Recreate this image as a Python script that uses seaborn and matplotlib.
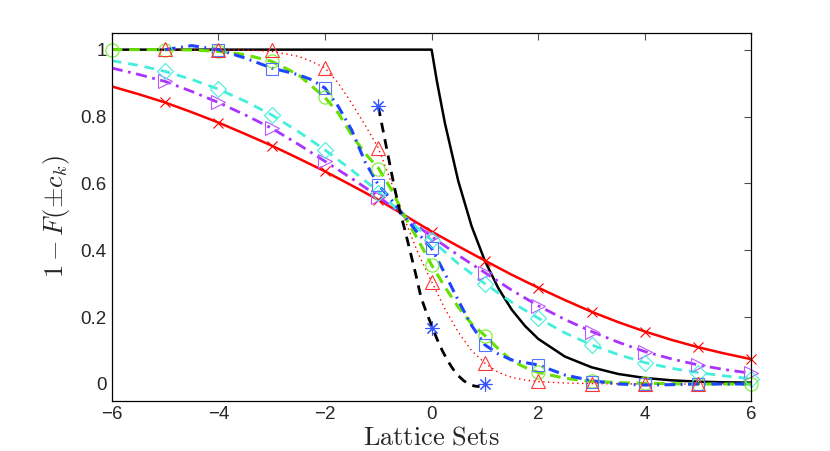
import numpy as np
import pandas as pd
import seaborn as sns
import matplotlib
matplotlib.use("Agg")
import matplotlib.pyplot as plt

# ---- curve values ----
x_half = [-6, -5.5, -5, -4.5, -4, -3.5, -3, -2.5, -2, -1.5, -1, -0.5,
          0, 0.5, 1, 1.5, 2, 2.5, 3, 3.5, 4, 4.5, 5, 5.5, 6]

red_line = [0.890, 0.867, 0.842, 0.813, 0.782, 0.748, 0.713, 0.675, 0.636, 0.594, 0.551, 0.504,
            0.456, 0.412, 0.369, 0.327, 0.288, 0.251, 0.216, 0.185, 0.157, 0.132, 0.110, 0.091, 0.074]
purple_line = [0.945, 0.926, 0.905, 0.875, 0.842, 0.805, 0.765, 0.717, 0.666, 0.615, 0.561, 0.500,
               0.441, 0.385, 0.333, 0.281, 0.234, 0.193, 0.157, 0.125, 0.097, 0.075, 0.057, 0.043, 0.032]
cyan_line = [0.967, 0.953, 0.935, 0.911, 0.882, 0.846, 0.805, 0.755, 0.700, 0.640, 0.576, 0.500,
             0.430, 0.360, 0.300, 0.245, 0.197, 0.153, 0.117, 0.088, 0.064, 0.047, 0.034, 0.024, 0.016]

x_green = [-6, -5.5, -5, -4.5, -4, -3.5, -3, -2.5, -2, -1.75, -1.5, -1.25, -1, -0.75, -0.5, -0.25,
           0, 0.25, 0.5, 0.75, 1, 1.25, 1.5, 1.75, 2, 2.5, 3, 3.5, 4, 5, 6]
green_line = [1.0, 1.0, 1.0, 0.999, 0.995, 0.985, 0.965, 0.925, 0.857, 0.81, 0.745, 0.69, 0.646, 0.58, 0.50, 0.43,
              0.356, 0.29, 0.23, 0.18, 0.145, 0.105, 0.07, 0.05, 0.035, 0.017, 0.008, 0.004, 0.002, 0.0, 0.0]

x_blue = [-5, -4.5, -4, -3.5, -3, -2.5, -2.25, -2, -1.75, -1.5, -1.25, -1, -0.75, -0.5, -0.25,
          0, 0.25, 0.5, 0.75, 1, 1.25, 1.5, 1.75, 2, 2.5, 3, 3.5, 4, 4.5, 5, 6]
blue_line = [1.0, 1.012, 1.0, 0.975, 0.945, 0.925, 0.91, 0.885, 0.83, 0.76, 0.665, 0.596, 0.55, 0.50, 0.45,
             0.406, 0.33, 0.25, 0.175, 0.117, 0.09, 0.072, 0.064, 0.057, 0.027, 0.01, 0.0, -0.003, -0.002, 0.0, 0.0]

x_dot = [-5, -4.5, -4, -3.5, -3, -2.5, -2.25, -2, -1.75, -1.5, -1.25, -1, -0.75, -0.5, -0.25,
         0, 0.25, 0.5, 0.75, 1, 1.25, 1.5, 1.75, 2, 2.5, 3, 4, 5, 6]
dot_line = [1.0, 1.0, 1.0, 0.999, 0.995, 0.98, 0.965, 0.945, 0.90, 0.84, 0.775, 0.706, 0.60, 0.49, 0.39,
            0.306, 0.225, 0.155, 0.10, 0.062, 0.035, 0.02, 0.012, 0.007, 0.003, 0.001, 0.0, 0.0, 0.0]

x_kdash = [-1, -0.9, -0.8, -0.7, -0.6, -0.5, -0.4, -0.3, -0.2, -0.1, 0, 0.1, 0.2, 0.3, 0.4, 0.5, 0.6, 0.7, 0.8, 0.9]
kdash_line = [0.83, 0.75, 0.67, 0.59, 0.52, 0.46, 0.395, 0.33, 0.26, 0.215, 0.175, 0.135, 0.10, 0.07, 0.045,
              0.025, 0.01, 0.0, -0.006, -0.008]

x_ksolid = [-6, 0, 0.1, 0.25, 0.5, 0.75, 1, 1.25, 1.5, 1.75, 2, 2.5, 3, 3.5, 4, 4.5, 5, 5.5, 6]
ksolid_line = [1.0, 1.0, 0.905, 0.78, 0.607, 0.472, 0.368, 0.287, 0.223, 0.174, 0.135, 0.082, 0.05, 0.03,
               0.018, 0.011, 0.007, 0.005, 0.004]

# ---- marker values ----
x_mk = [-5, -4, -3, -2, -1, 0, 1, 2, 3, 4, 5, 6]
red_mk = [0.842, 0.782, 0.713, 0.636, 0.551, 0.456, 0.369, 0.288, 0.216, 0.157, 0.110, 0.074]
purple_mk = [0.905, 0.842, 0.765, 0.666, 0.558, 0.441, 0.333, 0.234, 0.157, 0.097, 0.057, 0.032]
cyan_mk = [0.935, 0.882, 0.805, 0.700, 0.571, 0.430, 0.300, 0.197, 0.117, 0.064, 0.034, 0.016]

x_green_mk = [-6, -5, -4, -3, -2, -1, 0, 1, 2, 3, 4, 5, 6]
green_mk = [1.0, 1.0, 0.995, 0.965, 0.857, 0.644, 0.356, 0.145, 0.035, 0.008, 0.002, 0.001, 0.0]

x_sq_mk = [-4, -3, -2, -1, 0, 1, 2, 3, 4, 5]
blue_mk = [1.0, 0.942, 0.884, 0.596, 0.406, 0.117, 0.057, 0.007, 0.0, 0.0]

x_tri_mk = [-5, -4, -3, -2, -1, 0, 1, 2, 3, 4, 5]
tri_mk = [1.003, 1.0, 1.0, 0.945, 0.706, 0.304, 0.062, 0.01, 0.0, 0.0, 0.0]

x_star = [-1, 0, 1]
star_mk = [0.83, 0.168, 0.0]

# ---- styling ----
sns.set_style("white")
plt.rcParams["font.family"] = ["Liberation Sans", "DejaVu Sans"]
plt.rcParams["mathtext.fontset"] = "cm"
plt.rcParams["xtick.direction"] = "in"
plt.rcParams["ytick.direction"] = "in"

RED = "#ff0000"
PURPLE = "#aa33ff"
CYAN = "#44eedd"
GREEN = "#66e000"
BLUE = "#1f44ff"

fig = plt.figure(figsize=(8.3, 4.51), dpi=100)
ax = fig.add_axes([0.1346, 0.1115, 0.7708, 0.8155])

# lines
sns.lineplot(x=x_ksolid, y=ksolid_line, ax=ax, color="black", linewidth=1.8)
sns.lineplot(x=x_half, y=red_line, ax=ax, color=RED, linewidth=1.8)
sns.lineplot(x=x_half, y=purple_line, ax=ax, color=PURPLE, linewidth=2.0,
             linestyle=(0, (4, 2, 1, 2)))
sns.lineplot(x=x_half, y=cyan_line, ax=ax, color=CYAN, linewidth=2.0, linestyle=(0, (3.5, 2.5)))
sns.lineplot(x=x_dot, y=dot_line, ax=ax, color=RED, linewidth=1.0, linestyle=(0, (1, 2.5)))
sns.lineplot(x=x_green, y=green_line, ax=ax, color=GREEN, linewidth=2.2, linestyle=(0, (3.5, 2.2)))
sns.lineplot(x=x_blue, y=blue_line, ax=ax, color=BLUE, linewidth=2.2, linestyle=(0, (3.5, 1.8, 0.6, 1.8)))
sns.lineplot(x=x_kdash, y=kdash_line, ax=ax, color="black", linewidth=2.0, linestyle=(0, (3.5, 2.5)))

# markers (open, thin, MATLAB look)
mk = dict(linestyle="none", markerfacecolor="none", markersize=10, markeredgewidth=0.8, clip_on=False)
sns.lineplot(x=x_mk, y=red_mk, ax=ax, marker="x", color=RED, markeredgecolor=RED,
             **{**mk, "markersize": 7.5})
sns.lineplot(x=x_mk, y=purple_mk, ax=ax, marker=">", color=PURPLE, markeredgecolor="#bb55ff", **mk)
sns.lineplot(x=x_mk, y=cyan_mk, ax=ax, marker="D", color=CYAN, markeredgecolor=CYAN,
             **{**mk, "markersize": 8})
sns.lineplot(x=x_green_mk, y=green_mk, ax=ax, marker="o", color=GREEN, markeredgecolor="#77ee33",
             **{**mk, "markersize": 9.5})
sns.lineplot(x=x_sq_mk, y=blue_mk, ax=ax, marker="s", color=BLUE, markeredgecolor="#5577ff",
             **{**mk, "markersize": 8.5})
sns.lineplot(x=x_tri_mk, y=tri_mk, ax=ax, marker="^", color=RED, markeredgecolor="#ff3333", **mk)
sns.lineplot(x=x_star, y=star_mk, ax=ax, marker=(8, 2, 0), color=BLUE, markeredgecolor="#3355ff",
             **{**mk, "markersize": 10})

ax.set_xlim(-6, 6)
ax.set_ylim(-0.05, 1.05)
ax.set_xticks([-6, -4, -2, 0, 2, 4, 6])
ax.set_xticklabels(["\u22126", "\u22124", "\u22122", "0", "2", "4", "6"])
ax.set_yticks([0, 0.2, 0.4, 0.6, 0.8, 1])
ax.set_yticklabels(["0", "0.2", "0.4", "0.6", "0.8", "1"])
ax.tick_params(axis="both", labelsize=13.5, top=True, right=True, length=5, width=0.8, color="0.3")
for s in ax.spines.values():
    s.set_color("black")
    s.set_linewidth(0.9)

ax.set_xlabel(r"$\mathrm{Lattice\ Sets}$", fontsize=19, labelpad=2)
ax.set_ylabel(r"$1-F(\pm c_k)$", fontsize=19, labelpad=6)
if ax.get_legend() is not None:
    ax.get_legend().remove()

fig.savefig("out.png", dpi=100)
